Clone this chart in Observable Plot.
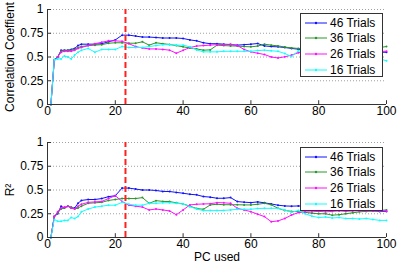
<!DOCTYPE html>
<html><head><meta charset="utf-8">
<script src="https://cdn.jsdelivr.net/npm/d3@7"></script>
<script src="https://cdn.jsdelivr.net/npm/@observablehq/plot@0.6"></script>
<style>
body{margin:0;background:#fff;font-family:"Liberation Sans",Arial,sans-serif;}
#wrap{position:relative;width:397px;height:266px;overflow:hidden;}
#wrap svg{display:block;}
.legend{position:absolute;background:#fff;border:1px solid #333;box-sizing:border-box;font-size:12px;color:#000;}
.legend .row{position:absolute;left:4px;height:14px;display:flex;align-items:center;white-space:nowrap;}
.legend .row svg{margin-right:3px;}
</style></head><body><div id="wrap"></div>
<script>
// PCs used (x positions)
const pcs = [1,2,3,4,5,6,7,8,9,10,
  12,14,16,18,20,22,24,26,28,30,
  32,34,36,38,40,42,44,46,48,50,
  52,54,56,58,60,62,64,66,68,70,
  72,74,76,78,80,82,84,86,88,90,
  92,94,96,98,100];

const seriesNames = ["46 Trials","36 Trials","26 Trials","16 Trials"];
const seriesColors = ["#1010ff","#2a962a","#ff10ff","#10ffff"];

// Correlation coefficient (top panel)
const corr46 = [0,0.47,0.50,0.57,0.57,0.57,0.58,0.59,0.62,0.635,
  0.635,0.635,0.64,0.66,0.68,0.73,0.73,0.72,0.71,0.71,
  0.705,0.70,0.70,0.70,0.695,0.68,0.67,0.65,0.64,0.64,
  0.635,0.63,0.625,0.63,0.635,0.642,0.617,0.61,0.607,0.60,
  0.59,0.582,0.575,0.57,0.57,0.565,0.565,0.56,0.56,0.56,
  0.555,0.555,0.555,0.55,0.55];
const corr36 = [0,0.47,0.50,0.56,0.57,0.57,0.57,0.58,0.60,0.61,
  0.62,0.625,0.63,0.645,0.65,0.65,0.645,0.645,0.66,0.625,
  0.65,0.64,0.632,0.62,0.607,0.595,0.585,0.572,0.575,0.625,
  0.62,0.617,0.615,0.61,0.607,0.615,0.635,0.625,0.617,0.605,
  0.596,0.59,0.59,0.595,0.59,0.595,0.60,0.60,0.595,0.60,
  0.60,0.60,0.605,0.60,0.61];
const corr26 = [0,0.46,0.50,0.55,0.56,0.56,0.56,0.57,0.59,0.60,
  0.62,0.64,0.655,0.67,0.67,0.665,0.64,0.61,0.595,0.585,
  0.585,0.58,0.572,0.54,0.57,0.60,0.615,0.62,0.625,0.63,
  0.63,0.635,0.62,0.58,0.554,0.54,0.526,0.50,0.49,0.502,
  0.52,0.545,0.555,0.55,0.545,0.55,0.555,0.56,0.555,0.56,
  0.56,0.565,0.56,0.56,0.56];
const corr16 = [0,0.47,0.48,0.48,0.51,0.50,0.48,0.52,0.55,0.57,
  0.59,0.55,0.58,0.58,0.58,0.61,0.60,0.60,0.60,0.61,
  0.62,0.63,0.63,0.625,0.625,0.607,0.575,0.554,0.554,0.554,
  0.56,0.56,0.56,0.56,0.56,0.568,0.572,0.565,0.56,0.537,
  0.505,0.565,0.555,0.54,0.53,0.53,0.52,0.52,0.51,0.51,
  0.50,0.50,0.49,0.48,0.46];

// R^2 (bottom panel)
const r2_46 = [0,0.22,0.25,0.33,0.31,0.33,0.31,0.31,0.36,0.39,
  0.40,0.40,0.41,0.43,0.44,0.52,0.52,0.51,0.50,0.50,
  0.495,0.485,0.484,0.475,0.466,0.455,0.449,0.431,0.425,0.413,
  0.413,0.42,0.378,0.372,0.367,0.375,0.365,0.353,0.34,0.332,
  0.33,0.332,0.33,0.32,0.315,0.31,0.305,0.30,0.295,0.29,
  0.29,0.285,0.28,0.275,0.275];
const r2_36 = [0,0.22,0.26,0.30,0.31,0.33,0.32,0.30,0.31,0.33,
  0.36,0.365,0.37,0.39,0.40,0.41,0.41,0.41,0.42,0.36,
  0.388,0.38,0.378,0.365,0.353,0.33,0.305,0.297,0.343,0.35,
  0.345,0.345,0.345,0.343,0.343,0.35,0.36,0.345,0.307,0.285,
  0.275,0.272,0.265,0.255,0.25,0.25,0.235,0.24,0.25,0.26,
  0.27,0.275,0.28,0.285,0.29];
const r2_26 = [0,0.22,0.27,0.31,0.32,0.33,0.31,0.30,0.33,0.35,
  0.37,0.375,0.38,0.41,0.44,0.38,0.34,0.33,0.32,0.29,
  0.30,0.29,0.28,0.24,0.29,0.343,0.35,0.353,0.355,0.367,
  0.365,0.36,0.307,0.29,0.272,0.245,0.22,0.166,0.175,0.20,
  0.237,0.262,0.27,0.27,0.275,0.27,0.275,0.28,0.275,0.28,
  0.28,0.28,0.28,0.28,0.28];
const r2_16 = [0,0.19,0.17,0.17,0.18,0.18,0.21,0.20,0.22,0.27,
  0.30,0.32,0.33,0.34,0.34,0.37,0.35,0.34,0.34,0.36,
  0.36,0.365,0.367,0.36,0.353,0.325,0.30,0.283,0.283,0.283,
  0.285,0.29,0.297,0.297,0.297,0.305,0.307,0.307,0.307,0.29,
  0.265,0.285,0.25,0.225,0.21,0.215,0.205,0.21,0.20,0.20,
  0.195,0.20,0.19,0.18,0.18];

const xTicks = [0,20,40,60,80,100];
const yTicks = [0,0.25,0.5,0.75,1];
const yTickLabels = ["0","0.25","0.5","0.75","1"];
const chosenPC = 23;

const FONT = '"Liberation Sans", Arial, sans-serif';

function panel(valuesList, ylabel, opt) {
  const marks = [
    Plot.ruleY(yTicks.filter(d => d > 0), {stroke: "#a0a0a0", strokeDasharray: "1,2", strokeWidth: 1})
  ];
  valuesList.forEach((vals, k) => {
    const rows = pcs.map((pc, i) => ({pc, v: vals[i]}));
    marks.push(Plot.line(rows, {x: "pc", y: "v", stroke: seriesColors[k], strokeWidth: 1}));
    marks.push(Plot.dot(rows, {x: "pc", y: "v", fill: seriesColors[k], r: 1, stroke: null}));
  });
  marks.push(Plot.ruleX([chosenPC], {y1: 0, y2: 1, stroke: "#ff2020", strokeWidth: 2, strokeDasharray: "6,3"}));
  marks.push(Plot.ruleX([0], {y1: 0, y2: 1, stroke: "#333"}));
  marks.push(Plot.ruleY([0], {x1: 0, x2: 100, stroke: "#333"}));
  marks.push(Plot.ruleX(xTicks, {y1: 0, y2: 0.04, stroke: "#333"}));
  marks.push(Plot.ruleY(yTicks, {x1: 0, x2: 1.2, stroke: "#333"}));
  marks.push(Plot.axisX(xTicks, {tickSize: 0, tickPadding: 2, label: null, fontSize: 12}));
  marks.push(Plot.axisY(yTicks, {tickSize: 0, tickPadding: 4, label: null, fontSize: 12,
    tickFormat: d => yTickLabels[yTicks.indexOf(d)]}));
  marks.push(Plot.text([ylabel], {frameAnchor: "left", textAnchor: "middle", rotate: -90, dx: -37, fontSize: 12, fill: "#000"}));
  if (opt.xlabel) marks.push(Plot.text([opt.xlabel], {frameAnchor: "bottom", textAnchor: "middle", dy: 23.5, fontSize: 12, fill: "#000"}));
  return Plot.plot({
    width: 397, height: opt.height,
    marginLeft: 47, marginRight: 11, marginTop: opt.mt, marginBottom: opt.mb,
    x: {domain: [0, 100]}, y: {domain: [0, 1]},
    style: {fontFamily: FONT, fontSize: "12px", color: "#000", background: "transparent", overflow: "visible"},
    marks
  });
}

function legend(top) {
  const div = document.createElement("div");
  div.className = "legend";
  Object.assign(div.style, {left: "300px", top: top + "px", width: "83px", height: "64px"});
  seriesNames.forEach((name, k) => {
    const row = document.createElement("div");
    row.className = "row";
    row.style.top = (1.7 + 15.6 * k) + "px";
    row.innerHTML = `<svg width="22" height="6"><line x1="0" x2="22" y1="3" y2="3" stroke="${seriesColors[k]}" stroke-width="1"/><circle cx="11" cy="3" r="1.2" fill="${seriesColors[k]}"/></svg><span>${name}</span>`;
    div.appendChild(row);
  });
  return div;
}

const wrap = document.getElementById("wrap");
wrap.appendChild(panel([corr46, corr36, corr26, corr16], "Correlation Coeffient", {height: 122, mt: 9, mb: 18}));
wrap.appendChild(panel([r2_46, r2_36, r2_26, r2_16], "R²", {height: 144, mt: 20, mb: 29, xlabel: "PC used"}));
wrap.appendChild(legend(13));
wrap.appendChild(legend(147));
</script></body></html>
